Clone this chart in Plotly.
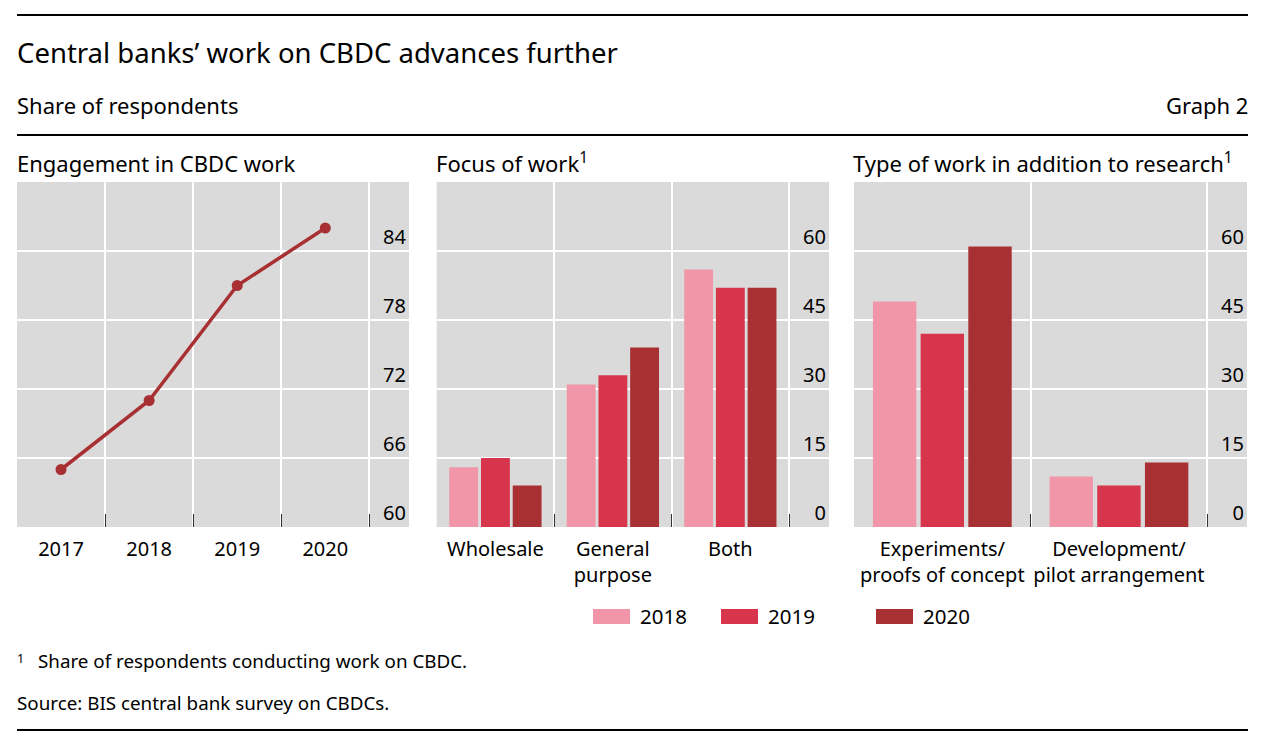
import plotly.graph_objects as go

# Engagement in CBDC work (share of respondents, %)
years = ["2017", "2018", "2019", "2020"]
engagement = [65, 71, 81, 86]

# Focus of work
focus_cats = ["Wholesale", "General<br>purpose", "Both"]
focus_2018 = [13, 31, 56]
focus_2019 = [15, 33, 52]
focus_2020 = [9, 39, 52]

# Type of work in addition to research
type_cats = ["Experiments/<br>proofs of concept", "Development/<br>pilot arrangement"]
type_2018 = [49, 11]
type_2019 = [42, 9]
type_2020 = [61, 14]

series_names = ["2018", "2019", "2020"]
colors = ["#F096A8", "#D7354B", "#A83033"]

# page body has an 8px margin, so the figure is shrunk and pixel positions shifted
OFF = 8
W, H = 1270 - 2 * OFF, 750 - 2 * OFF
FONT = "Noto Sans"


def px_x(v):
    return (v - OFF) / W


def px_y(v):
    return 1 - (v - OFF) / H


fig = go.Figure()

fig.add_trace(go.Scatter(
    x=years, y=engagement, mode="lines+markers",
    line=dict(color="#A83033", width=3.5),
    marker=dict(color="#A83033", size=11),
    xaxis="x", yaxis="y", showlegend=False
))

for name, vals, col in zip(series_names, [focus_2018, focus_2019, focus_2020], colors):
    fig.add_trace(go.Bar(x=focus_cats, y=vals, name=name, marker=dict(color=col, line_width=0),
                         xaxis="x2", yaxis="y2", showlegend=False))

for name, vals, col in zip(series_names, [type_2018, type_2019, type_2020], colors):
    fig.add_trace(go.Bar(x=type_cats, y=vals, name=name, marker=dict(color=col, line_width=0),
                         xaxis="x3", yaxis="y3", showlegend=False))

# panel boxes in pixels (left, right), shared top/bottom
panels = [(17, 409, [-0.5, 3.95]), (436.7, 829, [-0.5, 2.84]), (854, 1247, [-0.5, 1.725])]
ytop, ybot = 182, 527
yranges = [([60, 90], 6), ([0, 75], 15), ([0, 75], 15)]

tickfont = dict(family=FONT, size=20, color="#000")
for i, ((l, r, xr), (yr, dt)) in enumerate(zip(panels, yranges)):
    sfx = "" if i == 0 else str(i + 1)
    fig.update_layout(**{
        "xaxis" + sfx: dict(
            domain=[px_x(l), px_x(r)], anchor="y" + sfx, type="category", range=xr,
            tickson="boundaries", ticks="inside", ticklen=13, tickwidth=1, tickcolor="#333",
            ticklabelstandoff=8, tickangle=0, automargin=False,
            showgrid=True, gridcolor="white", gridwidth=1.5, showline=False, zeroline=False,
            tickfont=tickfont, fixedrange=True,
        ),
        "yaxis" + sfx: dict(
            domain=[px_y(ybot), px_y(ytop)], anchor="x" + sfx, side="right", range=yr, dtick=dt,
            tick0=yr[0], ticklabelposition="inside top", ticks="", showgrid=True,
            gridcolor="white", gridwidth=1.5, zeroline=False, showline=False, automargin=False,
            tickfont=tickfont, fixedrange=True,
        ),
    })

annotations = [
    dict(x=px_x(15), y=px_y(53), text="Central banks’ work on CBDC advances further",
         font=dict(size=27.5)),
    dict(x=px_x(15), y=px_y(105), text="Share of respondents", font=dict(size=22)),
    dict(x=px_x(1250), y=px_y(105), text="Graph 2", font=dict(size=22), xanchor="right"),
    dict(x=px_x(15), y=px_y(163), text="Engagement in CBDC work", font=dict(size=22)),
    dict(x=px_x(434), y=px_y(163), text="Focus of work<sup>1</sup>", font=dict(size=22)),
    dict(x=px_x(851), y=px_y(163), text="Type of work in addition to research<sup>1</sup>",
         font=dict(size=22)),
    dict(x=px_x(15), y=px_y(658), text="<sup>1</sup>", font=dict(size=18)),
    dict(x=px_x(36), y=px_y(661), text="Share of respondents conducting work on CBDC.",
         font=dict(size=18.8)),
    dict(x=px_x(15), y=px_y(703), text="Source: BIS central bank survey on CBDCs.",
         font=dict(size=18.8)),
]
for a in annotations:
    a.setdefault("xanchor", "left")
    a.update(xref="paper", yref="paper", yanchor="middle", showarrow=False)
    a["font"].update(family=FONT, color="#000")

shapes = []
for yy in (15, 135, 730):
    shapes.append(dict(type="line", xref="paper", yref="paper", x0=px_x(17), x1=px_x(1248),
                       y0=px_y(yy), y1=px_y(yy), line=dict(color="#000", width=2)))

# legend drawn by hand to keep the wide swatches
legend_x = [593, 721, 876]
for name, col, lx in zip(series_names, colors, legend_x):
    shapes.append(dict(type="rect", xref="paper", yref="paper", x0=px_x(lx), x1=px_x(lx + 37),
                       y0=px_y(624), y1=px_y(609), fillcolor=col, line_width=0))
    annotations.append(dict(x=px_x(lx + 45), y=px_y(616), text=name, xref="paper", yref="paper",
                            xanchor="left", yanchor="middle", showarrow=False,
                            font=dict(family=FONT, size=20.5, color="#000")))

fig.update_layout(
    width=W, height=H, margin=dict(l=0, r=0, t=0, b=0),
    paper_bgcolor="white", plot_bgcolor="#DADADA",
    bargap=0.19, bargroupgap=0.09, barmode="group",
    annotations=annotations, shapes=shapes,
    font=dict(family=FONT, color="#000"),
    showlegend=False,
)

fig.write_html("out.html")
